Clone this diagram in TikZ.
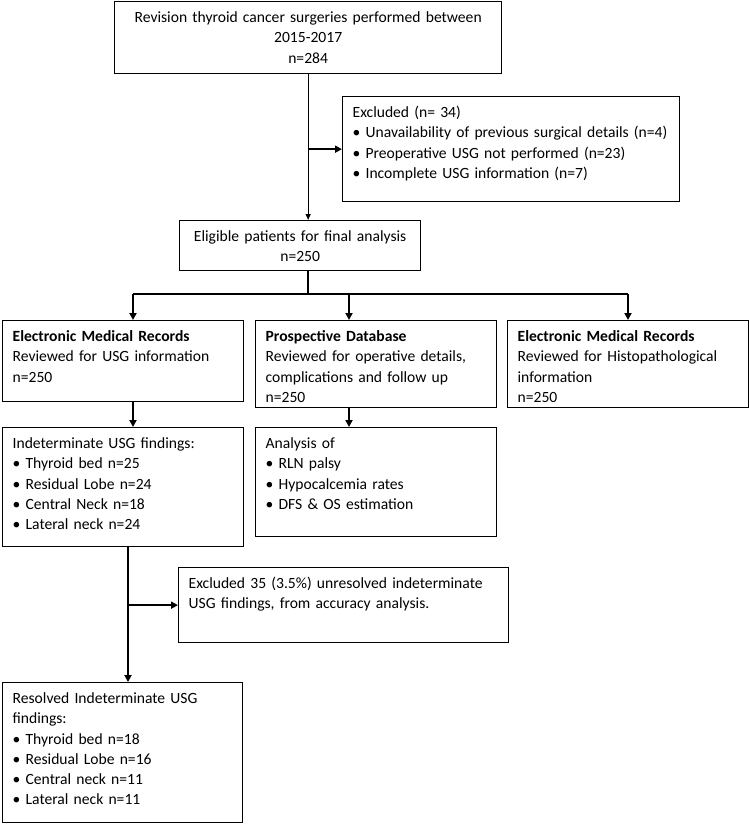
\documentclass[tikz,border=0pt]{standalone}
\usepackage{fontspec}
\setmainfont{Carlito}
\usetikzlibrary{arrows.meta}

\tikzset{
  box/.style={draw, line width=1.3pt, anchor=north west, inner xsep=10pt, inner ysep=0pt,
    font=\fontsize{15.6}{20.2}\selectfont, text height=21pt},
  trunk/.style={line width=2pt},
  flow/.style={line width=2pt, -{Triangle[length=7pt,width=7pt]}},
  thinflow/.style={line width=1.1pt, -{Triangle[length=6pt,width=5pt]}},
}

\NewDocumentCommand{\flowbox}{O{left}mmmmmm}{%
\pgfmathsetmacro{\boxtw}{#5-20}%
\pgfmathsetmacro{\boxtd}{#6-21}%
\node[box, align=#1, text width=\boxtw pt, text depth=\boxtd pt,
  minimum width=#5pt, minimum height=#6pt] (#2) at (#3,#4) {#7};%
}

\begin{document}
\begin{tikzpicture}[x=1pt,y=-1pt]
        \useasboundingbox (0,0) rectangle (749,824);

        % Screening.
        \flowbox[center]{total}{114}{1}{387}{72}{Revision thyroid cancer surgeries performed between\\2015-2017\\n=284}
        \flowbox{excl}{342}{96}{337}{105}{Excluded (n= 34)\\
          \textbullet\ Unavailability of previous surgical details (n=4)\\
          \textbullet\ Preoperative USG not performed (n=23)\\
          \textbullet\ Incomplete USG information (n=7)}
        \flowbox[center]{elig}{179}{220}{241}{50}{Eligible patients for final analysis\\n=250}

        % Record sources.
        \flowbox{emrusg}{2}{320}{241}{81}{\textbf{Electronic Medical Records}\\Reviewed for USG information\\n=250}
        \flowbox{pdb}{255}{320}{241}{87}{\textbf{Prospective Database}\\Reviewed for operative details,\\complications and follow up\\n=250}
        \flowbox{emrhpe}{507}{320}{241}{87}{\textbf{Electronic Medical Records}\\Reviewed for Histopathological\\information\\n=250}

        % Findings.
        \flowbox{indet}{2}{427}{241}{119}{Indeterminate USG findings:\\
          \textbullet\ Thyroid bed n=25\\
          \textbullet\ Residual Lobe n=24\\
          \textbullet\ Central Neck n=18\\
          \textbullet\ Lateral neck n=24}
        \flowbox{outc}{255}{427}{241}{109}{Analysis of\\
          \textbullet\ RLN palsy\\
          \textbullet\ Hypocalcemia rates\\
          \textbullet\ DFS \& OS estimation}
        \flowbox{unres}{178}{567}{330}{75}{Excluded 35 (3.5\%) unresolved indeterminate\\USG findings, from accuracy analysis.}
        \flowbox{resol}{2}{682}{240}{140}{Resolved Indeterminate USG\\findings:\\
          \textbullet\ Thyroid bed n=18\\
          \textbullet\ Residual Lobe n=16\\
          \textbullet\ Central neck n=11\\
          \textbullet\ Lateral neck n=11}

        % Connectors.
        \coordinate (split) at (307.5,294);
        \coordinate (hL) at (133,294);
        \coordinate (hM) at (349,294);
        \coordinate (hR) at (628,294);
        \coordinate (vL) at (128,606);
        \draw[thinflow] (total.south) -- (total.south |- elig.north);
        \draw[flow] (total.south |- excl.west) -- (excl.west);
        \draw[trunk] (split |- elig.south) -- (split);
        \draw[trunk] (hL) -- (hR);
        \draw[flow] (hL) -- (hL |- emrusg.north);
        \draw[flow] (hM) -- (hM |- pdb.north);
        \draw[flow] (hR) -- (hR |- emrhpe.north);
        \draw[flow] (emrusg.south -| hL) -- (indet.north -| hL);
        \draw[flow] (pdb.south -| hM) -- (outc.north -| hM);
        \draw[flow] (indet.south -| vL) -- (resol.north -| vL);
        \draw[flow] (unres.west -| vL) -- (unres.west);
    \end{tikzpicture}
\end{document}
